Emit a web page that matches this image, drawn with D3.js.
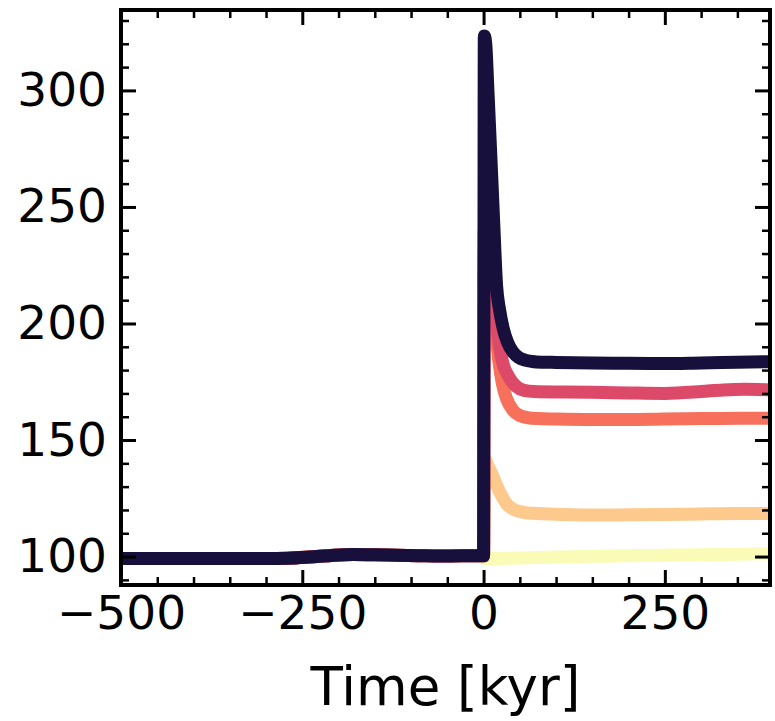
<!DOCTYPE html>
<html>
<head>
<meta charset="utf-8">
<script src="https://cdn.jsdelivr.net/npm/d3@7"></script>
<style>
  html, body { margin: 0; padding: 0; background: #fff; }
  svg { display: block; }
  text { font-family: "DejaVu Sans", sans-serif; fill: #000; }
</style>
</head>
<body>
<svg id="chart" width="775" height="721"></svg>
<script>
// ---------------- data ----------------
const xMajorTicks = [-500, -250, 0, 250];
const yMajorTicks = [100, 150, 200, 250, 300];
const xLabel = "Time [kyr]";

// shared history before the event (all runs identical; dark drawn on top)
const preTime  = [-500, -400, -300, -270, -240, -210, -180, -150, -120, -90, -60, -30, -5, 0];
const preValue = [99.2, 99.2, 99.2, 99.3, 99.8, 100.5, 100.9, 100.8, 100.6, 100.4, 100.2, 100.3, 100.3, 100.3];

const yellowTime  = [0, 1, 50, 100, 150, 200, 250, 300, 350, 395];
const yellowValue = [99.2, 99.2, 99.4, 99.8, 100.1, 100.3, 100.6, 100.8, 101.0, 101.2];

const lightOrangeTime  = [0, 1, 6, 12, 18, 25, 32, 40, 50, 60, 80, 100, 150, 200, 250, 300, 350, 395];
const lightOrangeValue = [99.2, 142, 139, 135, 130.5, 126, 122.5, 120.5, 119.3, 118.7, 118.4, 118.2, 117.8, 117.9, 118.0, 118.3, 118.5, 118.5];

const orangeTime  = [0, 1, 8, 16, 21, 26, 32, 40, 50, 62, 75, 100, 150, 200, 250, 300, 350, 395];
const orangeValue = [100.3, 230, 215, 199, 184, 174, 167.5, 163, 160.5, 159.5, 159.2, 159.0, 158.8, 158.8, 159.0, 159.2, 159.3, 159.3];

const pinkTime  = [0, 1, 8, 16, 21, 27, 35, 45, 56, 70, 100, 150, 200, 250, 300, 330, 360, 395];
const pinkValue = [100.3, 240, 225, 208, 192, 182.5, 177, 173, 171.3, 170.8, 170.6, 170.5, 170.2, 170.0, 170.8, 171.5, 171.8, 171.5];

const darkTime  = [0, 1, 3, 6, 10, 14, 18, 22, 27, 33, 40, 48, 57, 67, 80, 100, 150, 200, 250, 300, 350, 395];
const darkValue = [100.3, 323.3, 320, 300, 272, 243, 216, 206, 198, 192, 188, 185.5, 184.3, 183.7, 183.4, 183.3, 183.1, 182.9, 182.8, 183.1, 183.4, 183.6];

const seriesColors = ["#fbfbb8", "#fec98c", "#f7705c", "#dd4a69", "#170f3c"];

// ---------------- layout ----------------
const svg = d3.select("#chart");
const L = 121, R = 770, T = 10, B = 585;

const x = d3.scaleLinear().domain([-500, 395]).range([L, R]);
const y = d3.scaleLinear().domain([87.8, 334.5]).range([B, T]);

const xMinor = d3.range(-500, 396, 50).filter(v => !xMajorTicks.includes(v));
const yMinor = d3.range(90, 335, 10).filter(v => !yMajorTicks.includes(v));

// clip
svg.append("defs").append("clipPath").attr("id", "clip")
  .append("rect").attr("x", L).attr("y", T).attr("width", R - L).attr("height", B - T);

const line = d3.line().curve(d3.curveMonotoneX).x(d => x(d[0])).y(d => y(d[1]));
const zip = (a, b) => a.map((v, i) => [v, b[i]]);

const series = [
  zip(yellowTime, yellowValue),
  zip(preTime, preValue).concat(zip(lightOrangeTime, lightOrangeValue).slice(1)),
  zip(preTime, preValue).concat(zip(orangeTime, orangeValue).slice(1)),
  zip(preTime, preValue).concat(zip(pinkTime, pinkValue).slice(1)),
  zip(preTime, preValue).concat(zip(darkTime, darkValue).slice(1))
];

const g = svg.append("g").attr("clip-path", "url(#clip)");
g.selectAll("path.series").data(series).join("path")
  .attr("class", "series")
  .attr("d", line)
  .attr("fill", "none")
  .attr("stroke", (d, i) => seriesColors[i])
  .attr("stroke-width", 13)
  .attr("stroke-linejoin", "round")
  .attr("stroke-linecap", "round");

// ---------------- axes ----------------
function styleAxis(sel, w) {
  sel.select(".domain").remove();
  sel.selectAll(".tick line").attr("stroke", "#000").attr("stroke-width", w);
  sel.selectAll(".tick text").attr("font-size", 47).attr("font-family", "DejaVu Sans, sans-serif").attr("fill", "#000");
}

const MAJ = 15, MIN = 8;

// bottom
svg.append("g").attr("transform", `translate(0,${B})`)
  .call(d3.axisBottom(x).tickValues(xMajorTicks).tickSize(-MAJ).tickPadding(10)
    .tickFormat(d => d < 0 ? "\u2212" + Math.abs(d) : String(d)))
  .call(s => styleAxis(s, 3))
  .call(s => s.selectAll(".tick text").attr("dy", null).attr("y", 44));
svg.append("g").attr("transform", `translate(0,${B})`)
  .call(d3.axisBottom(x).tickValues(xMinor).tickSize(-MIN).tickFormat(""))
  .call(s => styleAxis(s, 2.5));
// top
svg.append("g").attr("transform", `translate(0,${T})`)
  .call(d3.axisTop(x).tickValues(xMajorTicks).tickSize(-MAJ).tickFormat(""))
  .call(s => styleAxis(s, 3));
svg.append("g").attr("transform", `translate(0,${T})`)
  .call(d3.axisTop(x).tickValues(xMinor).tickSize(-MIN).tickFormat(""))
  .call(s => styleAxis(s, 2.5));
// left
svg.append("g").attr("transform", `translate(${L},0)`)
  .call(d3.axisLeft(y).tickValues(yMajorTicks).tickSize(-MAJ).tickPadding(14))
  .call(s => styleAxis(s, 3));
svg.append("g").attr("transform", `translate(${L},0)`)
  .call(d3.axisLeft(y).tickValues(yMinor).tickSize(-MIN).tickFormat(""))
  .call(s => styleAxis(s, 2.5));
// right
svg.append("g").attr("transform", `translate(${R},0)`)
  .call(d3.axisRight(y).tickValues(yMajorTicks).tickSize(-MAJ).tickFormat(""))
  .call(s => styleAxis(s, 3));
svg.append("g").attr("transform", `translate(${R},0)`)
  .call(d3.axisRight(y).tickValues(yMinor).tickSize(-MIN).tickFormat(""))
  .call(s => styleAxis(s, 2.5));

// frame
svg.append("rect").attr("x", L).attr("y", T).attr("width", R - L).attr("height", B - T)
  .attr("fill", "none").attr("stroke", "#000").attr("stroke-width", 4);

// x label
svg.append("text").attr("x", (L + R) / 2).attr("y", 705)
  .attr("text-anchor", "middle").attr("font-size", 53).text(xLabel);
</script>
</body>
</html>
